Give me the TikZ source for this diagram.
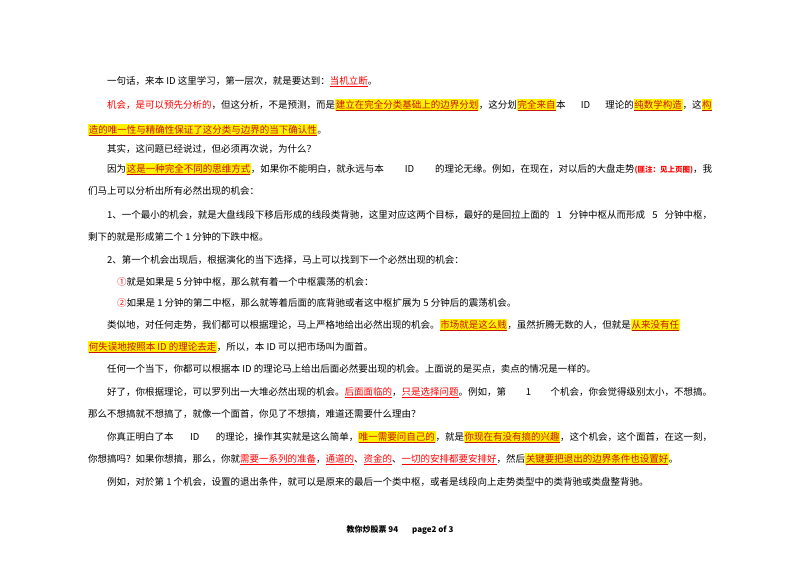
\documentclass[tikz,border=0pt]{standalone}
\usepackage{fontspec}
\setmainfont{Noto Sans CJK SC}
\XeTeXlinebreaklocale "zh"
\XeTeXlinebreakskip=0pt plus 3pt minus 0.5pt
\definecolor{hlred}{RGB}{200,20,10}
\newcommand{\hlt}[1]{{\setlength{\fboxsep}{0.6pt}\colorbox{yellow}{\textcolor{hlred}{\underline{#1}}}}}
\newcommand{\ult}[1]{\textcolor{red}{\underline{#1}}}
\newcommand{\fullln}[4]{\node[txt] (#1) at (#2pt,-#3pt) {\makebox[\dimexpr712pt-#2pt\relax][s]{#4}};}
\newcommand{\txtln}[4]{\node[txt] (#1) at (#2pt,-#3pt) {#4};}
\tikzset{txt/.style={anchor=base west,inner sep=0pt,font=\fontsize{9.5pt}{11pt}\selectfont}}
\begin{document}
\begin{tikzpicture}[x=1pt,y=1pt]
\useasboundingbox[fill=white] (0,0) rectangle (800,-566);
\txtln{l1}{107}{84}{一句话，来本 ID 这里学习，第一层次，就是要达到：\ult{当机立断}。}
\fullln{l2}{107}{108}{\textcolor{red}{机会，是可以预先分析的}，但这分析，不是预测，而是\hlt{建立在完全分类基础上的边界分划}，这分划\hlt{完全来自}本 ID 理论的\hlt{纯数学构造}，这\hlt{构}}
\txtln{l3}{88}{133}{\hlt{造的唯一性与精确性保证了这分类与边界的当下确认性}。}
\txtln{l4}{107}{152}{其实，这问题已经说过，但必须再次说，为什么？}
\fullln{l5}{107}{172}{因为\hlt{这是一种完全不同的思维方式}，如果你不能明白，就永远与本 ID 的理论无缘。例如，在现在，对以后的大盘走势{\fontsize{7.5pt}{8pt}\selectfont\bfseries\textcolor{red}{(匪注：见上页图)}}，我}
\txtln{l6}{88}{194}{们马上可以分析出所有必然出现的机会：}
\fullln{l7}{107}{218}{1、一个最小的机会，就是大盘线段下移后形成的线段类背驰，这里对应这两个目标，最好的是回拉上面的 1 分钟中枢从而形成 5 分钟中枢，}
\txtln{l8}{88}{240}{剩下的就是形成第二个 1 分钟的下跌中枢。}
\txtln{l9}{107}{263}{2、第一个机会出现后，根据演化的当下选择，马上可以找到下一个必然出现的机会：}
\txtln{l10}{117}{285}{\textcolor{red}{①}就是如果是 5 分钟中枢，那么就有着一个中枢震荡的机会：}
\txtln{l11}{117}{306}{\textcolor{red}{②}如果是 1 分钟的第二中枢，那么就等着后面的底背驰或者这中枢扩展为 5 分钟后的震荡机会。}
\fullln{l12}{107}{328}{类似地，对任何走势，我们都可以根据理论，马上严格地给出必然出现的机会。\hlt{市场就是这么贱}，虽然折腾无数的人，但就是\hlt{从来没有任}}
\txtln{l13}{88}{350}{\hlt{何失误地按照本 ID 的理论去走}，所以，本 ID 可以把市场叫为面首。}
\txtln{l14}{107}{372}{任何一个当下，你都可以根据本 ID 的理论马上给出后面必然要出现的机会。上面说的是买点，卖点的情况是一样的。}
\fullln{l15}{107}{395}{好了，你根据理论，可以罗列出一大堆必然出现的机会。\ult{后面面临的}，\ult{只是选择问题}。例如，第 1 个机会，你会觉得级别太小，不想搞。}
\txtln{l16}{88}{417}{那么不想搞就不想搞了，就像一个面首，你见了不想搞，难道还需要什么理由？}
\fullln{l17}{107}{440}{你真正明白了本 ID 的理论，操作其实就是这么简单，\hlt{唯一需要问自己的}，就是\hlt{你现在有没有搞的兴趣}，这个机会，这个面首，在这一刻，}
\txtln{l18}{88}{462}{你想搞吗？如果你想搞，那么，你就\ult{需要一系列的准备}，\ult{通道的}、\ult{资金的}、\ult{一切的安排都要安排好}，然后\hlt{关键要把退出的边界条件也设置好}。}
\txtln{l19}{107}{485}{例如，对於第 1 个机会，设置的退出条件，就可以是原来的最后一个类中枢，或者是线段向上走势类型中的类背驰或类盘整背驰。}
\node[anchor=base,inner sep=0pt,font=\fontsize{8pt}{9pt}\selectfont\bfseries] (ft) at (400,-532) {教你炒股票 94\hspace{14pt}page2 of 3};
\end{tikzpicture}
\end{document}
